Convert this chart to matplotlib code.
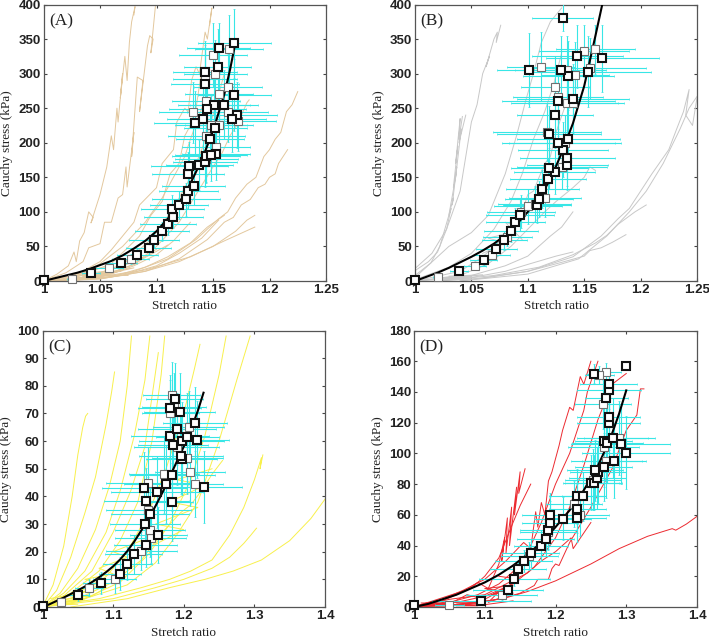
import matplotlib
matplotlib.use("Agg")
import matplotlib.pyplot as plt

W = 709
H = 644

plt.rcParams["font.family"] = "Liberation Sans"
plt.rcParams["font.weight"] = "bold"

# panel A
a_x = [1.0, 1.042, 1.069, 1.083, 1.093, 1.098, 1.105, 1.110, 1.115, 1.114, 1.120, 1.126, 1.128, 1.133, 1.128, 1.129, 1.138, 1.143, 1.144, 1.153, 1.148, 1.147, 1.152, 1.134, 1.141, 1.171, 1.167, 1.151, 1.145, 1.160, 1.169, 1.143, 1.143, 1.154, 1.155, 1.169]
a_y = [2, 12, 26, 38, 48, 60, 72, 82, 92, 104, 110, 118, 130, 138, 155, 166, 168, 172, 181, 184, 182, 206, 222, 229, 234, 240, 234, 254, 249, 255, 269, 285, 302, 310, 337, 344]
a_xerr = [.001, .008, .014, .018, .02, .022, .024, .025, .026, .028, .026, .03, .026, .028, .032, .034, .03, .028, .03, .03, .032, .03, .028, .036, .032, .036, .03, .032, .034, .03, .032, .03, .028, .03, .028, .032]
a_yerr = [.5, 3, 6, 8, 10, 12, 14, 15, 16, 20, 20, 24, 26, 28, 32, 35, 36, 36, 38, 38, 38, 40, 42, 46, 46, 48, 48, 50, 50, 50, 52, 52, 45, 55, 36, 50]
a2_x = [1.025, 1.058, 1.077, 1.132, 1.144, 1.144, 1.148, 1.153, 1.155, 1.155, 1.163, 1.152, 1.150, 1.164, 1.172, 1.163, 1.143, 1.144]
a2_y = [3, 19, 32, 244, 260, 210, 226, 194, 225, 270, 280, 300, 327, 335, 232, 245, 292, 176]
a2_xerr = [.004, .012, .016, .03, .03, .034, .032, .03, .03, .03, .03, .028, .03, .03, .034, .036, .028, .028]
a2_yerr = [1, 5, 7, 44, 46, 40, 42, 38, 40, 46, 48, 48, 46, 50, 44, 44, 50, 34]
a_fit_x = [1.0, 1.01, 1.02, 1.03, 1.04, 1.05, 1.06, 1.07, 1.08, 1.09, 1.10, 1.11, 1.12, 1.13, 1.14, 1.15, 1.16, 1.165, 1.169]
a_fit_y = [0, 4, 8, 12, 17, 23, 29, 37, 47, 58, 72, 90, 113, 141, 175, 217, 270, 305, 338]
a_curves = [
    ([1.0, 1.012, 1.022, 1.027, 1.029, 1.032, 1.036, 1.04, 1.044, 1.042, 1.05, 1.053, 1.056, 1.06, 1.062, 1.065, 1.066, 1.07, 1.068, 1.072, 1.074, 1.076, 1.078, 1.081, 1.08], [0, 10, 22, 42, 28, 58, 70, 100, 92, 84, 125, 145, 165, 210, 190, 250, 230, 300, 265, 325, 290, 345, 375, 397, 385]),
    ([1.0, 1.02, 1.035, 1.04, 1.05, 1.054, 1.06, 1.066, 1.07, 1.073, 1.074, 1.08, 1.078, 1.083, 1.088, 1.085, 1.092, 1.094, 1.097, 1.095, 1.099], [0, 12, 28, 48, 54, 85, 85, 120, 125, 165, 136, 215, 180, 295, 290, 245, 340, 355, 350, 330, 397]),
    ([1.0, 1.03, 1.05, 1.06, 1.08, 1.085, 1.1, 1.105, 1.115, 1.118, 1.125, 1.128, 1.131, 1.135, 1.138, 1.143, 1.145, 1.149, 1.147], [0, 10, 28, 45, 85, 110, 135, 170, 190, 230, 250, 245, 290, 310, 300, 360, 350, 395, 370]),
    ([1.0, 1.03, 1.06, 1.085, 1.095, 1.105, 1.112, 1.12, 1.125, 1.13, 1.135, 1.14], [0, 6, 25, 65, 95, 115, 155, 170, 210, 225, 250, 305]),
    ([1.0, 1.03, 1.05, 1.07, 1.09, 1.105, 1.115, 1.125, 1.13, 1.14], [0, 8, 25, 50, 85, 120, 150, 180, 205, 250]),
    ([1.0, 1.04, 1.07, 1.095, 1.115, 1.13, 1.14, 1.15, 1.16], [0, 6, 24, 60, 105, 150, 190, 240, 300]),
    ([1.0, 1.05, 1.08, 1.1, 1.12, 1.135, 1.15, 1.158, 1.165, 1.172, 1.18, 1.182], [0, 6, 24, 50, 85, 125, 165, 185, 210, 228, 258, 262]),
    ([1.0, 1.04, 1.08, 1.11, 1.135, 1.155, 1.163, 1.17, 1.18, 1.188, 1.195, 1.2, 1.205, 1.21, 1.215, 1.22, 1.225], [0, 3, 14, 32, 60, 90, 100, 120, 140, 150, 180, 190, 205, 215, 245, 255, 274]),
    ([1.0, 1.05, 1.09, 1.12, 1.145, 1.16, 1.168, 1.175, 1.183, 1.19, 1.196, 1.2, 1.205, 1.208, 1.216], [0, 3, 14, 32, 60, 85, 92, 110, 118, 135, 140, 150, 155, 170, 190]),
    ([1.0, 1.05, 1.09, 1.12, 1.15, 1.17, 1.18, 1.187], [0, 3, 14, 28, 50, 72, 88, 95]),
    ([1.0, 1.05, 1.09, 1.13, 1.16, 1.187], [0, 4, 16, 35, 58, 78]),
    ([1.0, 1.06, 1.09, 1.11, 1.13, 1.145, 1.16], [0, 6, 20, 35, 55, 78, 95]),
    ([1.0, 1.03, 1.06, 1.08, 1.1, 1.115, 1.13], [0, 2, 10, 22, 38, 58, 85]),
    ([1.0, 1.04, 1.07, 1.1, 1.12, 1.14, 1.155], [0, 2, 8, 22, 40, 62, 88]),
    ([1.025, 1.04, 1.06, 1.08, 1.09, 1.11], [0, 4, 12, 24, 34, 52]),
    ([1.025, 1.03, 1.045, 1.065, 1.085, 1.1], [0, 8, 18, 20, 30, 46]),
    ([1.025, 1.026, 1.05, 1.028, 1.06, 1.03, 1.07, 1.034, 1.08, 1.04, 1.075, 1.03, 1.055, 1.026], [1, 3, 9, 7, 12, 4, 15, 2, 19, 8, 8, 10, 14, 2]),
]

# panel B
b_x = [1.0, 1.039, 1.061, 1.072, 1.079, 1.085, 1.089, 1.093, 1.108, 1.110, 1.113, 1.118, 1.124, 1.119, 1.135, 1.135, 1.131, 1.127, 1.136, 1.119, 1.124, 1.127, 1.14, 1.136, 1.129, 1.153, 1.101, 1.166, 1.144, 1.131]
b_y = [1, 14, 30, 46, 59, 72, 86, 96, 110, 118, 133, 147, 158, 163, 168, 178, 190, 200, 206, 213, 240, 260, 264, 297, 305, 303, 305, 322, 325, 381]
b_xerr = [.001, .008, .012, .018, .02, .024, .026, .03, .03, .03, .032, .034, .036, .034, .036, .042, .04, .05, .046, .046, .034, .05, .05, .04, .04, .056, .028, .05, .04, .027]
b_yerr = [.5, 3, 7, 10, 14, 16, 20, 24, 26, 26, 28, 30, 32, 30, 36, 40, 40, 42, 44, 40, 48, 50, 50, 50, 50, 52, 54, 48, 46, 20]
b2_x = [1.02, 1.053, 1.068, 1.082, 1.094, 1.1, 1.106, 1.115, 1.117, 1.124, 1.127, 1.135, 1.14, 1.112, 1.135, 1.142, 1.155, 1.150, 1.16, 1.13, 1.133]
b2_y = [6, 21, 38, 64, 100, 108, 112, 120, 216, 280, 266, 258, 258, 310, 305, 298, 308, 333, 335, 165, 200]
b2_xerr = [.004, .01, .016, .022, .03, .03, .032, .032, .048, .03, .04, .05, .04, .03, .03, .03, .05, .04, .035, .04, .05]
b2_yerr = [1, 5, 8, 14, 24, 25, 26, 28, 42, 46, 46, 46, 46, 50, 50, 48, 44, 38, 36, 32, 40]
b_fit_x = [1.0, 1.01, 1.02, 1.03, 1.04, 1.05, 1.06, 1.07, 1.08, 1.09, 1.10, 1.11, 1.12, 1.13, 1.14, 1.15, 1.16, 1.166]
b_fit_y = [0, 6, 12, 19, 27, 35, 44, 54, 66, 82, 100, 120, 147, 185, 228, 282, 355, 400]
b_curves = [
    ([1.0, 1.012, 1.02, 1.028, 1.032, 1.03, 1.036, 1.034, 1.038, 1.036, 1.04, 1.039, 1.042], [15, 28, 42, 75, 105, 95, 150, 135, 195, 170, 235, 205, 238]),
    ([1.0, 1.014, 1.022, 1.03, 1.034, 1.033, 1.037, 1.036, 1.041, 1.039, 1.045], [8, 26, 50, 95, 120, 110, 165, 150, 220, 200, 240]),
    ([1.0, 1.015, 1.028, 1.04, 1.045, 1.05, 1.055, 1.06, 1.066, 1.063, 1.07, 1.073, 1.072, 1.076], [18, 40, 75, 130, 180, 230, 255, 300, 325, 310, 350, 360, 345, 370]),
    ([1.0, 1.03, 1.05, 1.065, 1.08, 1.09, 1.098, 1.105, 1.112, 1.12, 1.13], [5, 50, 70, 95, 155, 210, 260, 300, 345, 375, 395]),
    ([1.0, 1.03, 1.05, 1.07, 1.085, 1.095, 1.105, 1.115, 1.123, 1.13], [2, 20, 40, 75, 115, 155, 205, 245, 285, 330]),
    ([1.0, 1.04, 1.06, 1.08, 1.095, 1.1, 1.105, 1.115, 1.12, 1.125, 1.135], [0, 14, 35, 65, 100, 125, 130, 170, 180, 215, 262]),
    ([1.0, 1.04, 1.065, 1.085, 1.1, 1.115, 1.125, 1.14, 1.15, 1.155, 1.16], [0, 8, 25, 50, 75, 100, 115, 135, 150, 165, 160]),
    ([1.0, 1.05, 1.08, 1.1, 1.12, 1.13, 1.14], [0, 8, 22, 36, 65, 78, 100]),
    ([1.0, 1.05, 1.08, 1.1, 1.125, 1.14], [0, 5, 14, 24, 36, 42]),
    ([1.02, 1.06, 1.1, 1.13, 1.15, 1.155, 1.165, 1.175, 1.187], [0, 4, 14, 27, 36, 44, 48, 56, 67]),
    ([1.02, 1.07, 1.11, 1.14, 1.16, 1.17, 1.18, 1.195, 1.205], [0, 8, 20, 38, 55, 66, 82, 100, 110]),
    ([1.04, 1.1, 1.14, 1.165, 1.18, 1.19, 1.2, 1.21, 1.225, 1.232, 1.238, 1.243, 1.24, 1.246, 1.25], [0, 14, 35, 65, 90, 105, 130, 155, 190, 220, 245, 277, 240, 225, 265]),
    ([1.04, 1.1, 1.145, 1.17, 1.19, 1.205, 1.22, 1.235, 1.243, 1.25], [0, 10, 32, 65, 100, 130, 170, 220, 250, 267]),
    ([1.02, 1.04, 1.022, 1.05, 1.025, 1.06, 1.03, 1.05, 1.02], [1, 4, 5, 6, 2, 9, 7, 3, 3]),
    ([1.06, 1.08, 1.065, 1.085, 1.07, 1.09, 1.08, 1.095], [40, 55, 62, 70, 50, 80, 85, 60]),
]

# panel C
c_x = [1.0, 1.05, 1.083, 1.11, 1.12, 1.129, 1.146, 1.164, 1.145, 1.152, 1.147, 1.144, 1.183, 1.162, 1.175, 1.184, 1.197, 1.196, 1.228, 1.197, 1.185, 1.181, 1.205, 1.219, 1.19, 1.216, 1.194, 1.18, 1.187]
c_y = [.5, 4.3, 8.7, 12, 15.6, 19, 22.5, 26, 30, 33.5, 38.3, 43, 38, 41.5, 44.5, 47.7, 53.5, 54.7, 43.5, 60, 58.7, 61.8, 61.5, 60.5, 64.5, 66.7, 70.5, 72, 75.3]
c_xerr = [.001, .015, .025, .03, .035, .04, .045, .04, .05, .055, .06, .06, .03, .065, .06, .06, .05, .06, .055, .06, .05, .055, .045, .045, .055, .045, .05, .045, .04]
c_yerr = [.2, 2, 4, 6, 6, 7, 8, 10, 10, 11, 12, 13, 14, 13, 14, 13, 13, 14, 13, 14, 12, 13, 16, 14, 13, 13, 14, 12, 13]
c2_x = [1.026, 1.066, 1.102, 1.14, 1.153, 1.152, 1.15, 1.15, 1.172, 1.209, 1.216, 1.205, 1.19, 1.207, 1.181, 1.186, 1.183]
c2_y = [1.7, 7, 10.2, 20.3, 25, 28, 35, 44.7, 48, 48.7, 44.5, 54, 58, 65, 70, 72.5, 76.5]
c2_xerr = [.006, .02, .03, .05, .05, .05, .06, .06, .05, .05, .04, .05, .06, .05, .04, .045, .04]
c2_yerr = [.8, 3, 5, 7, 9, 10, 12, 13, 14, 12, 12, 13, 14, 13, 12, 12, 12]
c_fit_x = [1.0, 1.01, 1.02, 1.03, 1.04, 1.05, 1.06, 1.07, 1.08, 1.09, 1.10, 1.11, 1.12, 1.13, 1.14, 1.15, 1.16, 1.17, 1.18, 1.19, 1.20, 1.21, 1.22, 1.228]
c_fit_y = [0, 1, 2.2, 3.4, 4.7, 6, 7.4, 9, 10.7, 12.6, 14.7, 17.2, 20.2, 23.7, 27.7, 32, 36.5, 41.5, 47, 52.5, 58, 64, 71, 77.5]
c_curves = [
    ([1.0, 1.015, 1.03, 1.042, 1.05, 1.057, 1.061, 1.064], [0, 8, 22, 40, 55, 65, 69, 70]),
    ([1.0, 1.02, 1.04, 1.06, 1.075, 1.09, 1.098, 1.102], [0, 6, 18, 34, 47, 66, 78, 85]),
    ([1.0, 1.025, 1.05, 1.075, 1.095, 1.11, 1.12, 1.126], [0, 5, 14, 28, 44, 60, 80, 98]),
    ([1.0, 1.03, 1.06, 1.09, 1.11, 1.13, 1.145, 1.152], [0, 5, 13, 27, 42, 62, 82, 98]),
    ([1.0, 1.03, 1.07, 1.1, 1.125, 1.145, 1.155, 1.164], [0, 4, 13, 27, 42, 58, 76, 92]),
    ([1.0, 1.04, 1.08, 1.11, 1.135, 1.155, 1.168, 1.173], [0, 5, 13, 24, 38, 60, 84, 98]),
    ([1.0, 1.05, 1.09, 1.12, 1.15, 1.175, 1.2, 1.215, 1.223], [0, 4, 11, 20, 34, 50, 70, 86, 95]),
    ([1.0, 1.05, 1.1, 1.14, 1.17, 1.195, 1.21, 1.225, 1.24, 1.255], [0, 3, 9, 17, 27, 34, 37, 42, 48, 53]),
    ([1.0, 1.06, 1.11, 1.15, 1.18, 1.21, 1.23, 1.25, 1.26], [0, 3, 9, 19, 30, 46, 62, 84, 98]),
    ([1.0, 1.06, 1.12, 1.16, 1.19, 1.22, 1.25, 1.275, 1.294], [0, 3, 8, 16, 26, 38, 60, 82, 98]),
    ([1.0, 1.08, 1.14, 1.18, 1.21, 1.24, 1.265, 1.285, 1.3, 1.31, 1.308, 1.312], [0, 3, 7, 10, 13, 17, 26, 36, 46, 54, 50, 55]),
    ([1.0, 1.1, 1.16, 1.2, 1.24, 1.265, 1.285, 1.295, 1.303], [0, 3, 7, 10, 14, 18, 23, 26, 28.5]),
    ([1.04, 1.12, 1.18, 1.23, 1.27, 1.31, 1.35, 1.38, 1.4], [0, 3, 7, 10, 13, 17, 24, 32, 39]),
    ([1.0, 1.04, 1.07, 1.09], [0, 1.5, 4, 7]),
    ([1.0, 1.05, 1.01, 1.06, 1.02, 1.07, 1.03, 1.06, 1.01], [.5, 1, 1.5, 2.5, 2.5, 4, 4, 5.5, 3]),
    ([1.05, 1.09, 1.06, 1.1, 1.08, 1.12, 1.1, 1.14], [6, 8, 10, 12, 14, 18, 20, 24]),
    ([1.14, 1.2, 1.16, 1.22, 1.18, 1.23, 1.19, 1.24], [20, 28, 30, 36, 38, 44, 46, 50]),
]

# panel D
d_x = [1.0, 1.095, 1.133, 1.142, 1.147, 1.155, 1.165, 1.18, 1.186, 1.19, 1.192, 1.192, 1.21, 1.231, 1.231, 1.231, 1.239, 1.25, 1.254, 1.259, 1.26, 1.256, 1.268, 1.283, 1.3, 1.268, 1.273, 1.281, 1.292, 1.275, 1.275, 1.272, 1.276, 1.275, 1.255, 1.3]
d_y = [1.5, 4, 11, 18.5, 24.5, 30, 35, 40, 44.5, 50, 55, 60, 57.5, 58, 64, 72, 72, 81, 81, 84, 88, 89, 91, 95, 100.5, 108, 107, 110, 106, 120, 124, 136, 141, 145, 152, 157]
d_xerr = [.001, .07, .05, .05, .04, .04, .04, .038, .04, .04, .04, .04, .04, .04, .04, .04, .03, .04, .04, .04, .04, .04, .04, .045, .062, .04, .05, .05, .07, .045, .045, .03, .045, .04, .01, .005]
d_yerr = [.5, 1, 3, 5, 6, 7, 9, 10, 11, 12, 14, 14, 14, 16, 16, 18, 16, 18, 18, 20, 20, 20, 22, 24, 24, 24, 26, 26, 26, 22, 22, 12, 12, 10, 6, 2]
d2_x = [1.05, 1.124, 1.163, 1.19, 1.226, 1.235, 1.253, 1.268, 1.267, 1.272, 1.262, 1.29, 1.272]
d2_y = [1.5, 7.5, 33, 49, 67, 60, 83, 104, 132, 153, 151, 110, 95]
d2_xerr = [.02, .05, .04, .04, .04, .04, .04, .05, .04, .02, .02, .05, .05]
d2_yerr = [.5, 3, 9, 12, 15, 14, 20, 26, 16, 6, 6, 24, 24]
d_fit_x = [1.0, 1.02, 1.04, 1.06, 1.08, 1.1, 1.12, 1.14, 1.16, 1.18, 1.2, 1.22, 1.24, 1.25, 1.26, 1.27, 1.28, 1.29, 1.3]
d_fit_y = [0, 2, 5, 8, 12, 16, 21, 27, 34, 42, 52, 63, 76, 84, 92, 102, 113, 126, 141]
d_curves = [
    ([1.0, 1.04, 1.07, 1.09, 1.105, 1.12, 1.128, 1.124, 1.132, 1.13, 1.138, 1.135, 1.145, 1.142, 1.15, 1.148, 1.157], [0, 4, 10, 16, 12, 28, 45, 30, 58, 35, 65, 40, 78, 60, 88, 74, 90]),
    ([1.0, 1.04, 1.08, 1.1, 1.12, 1.14, 1.15, 1.165], [0, 6, 12, 20, 32, 55, 66, 80]),
    ([1.0, 1.04, 1.07, 1.1, 1.13, 1.155, 1.165, 1.172, 1.175, 1.18, 1.185, 1.19, 1.195, 1.205, 1.21, 1.22, 1.225, 1.235, 1.24, 1.25], [0, 5, 11, 18, 30, 42, 38, 62, 52, 68, 60, 82, 88, 105, 115, 130, 128, 150, 145, 160]),
    ([1.0, 1.05, 1.09, 1.12, 1.145, 1.165, 1.18, 1.2, 1.22, 1.24, 1.245, 1.26], [0, 3, 8, 15, 25, 40, 55, 80, 100, 128, 140, 160]),
    ([1.0, 1.05, 1.1, 1.13, 1.16, 1.18, 1.2, 1.222, 1.225, 1.25], [0, 5, 8, 15, 22, 30, 36, 45, 38, 55]),
    ([1.0, 1.06, 1.1, 1.14, 1.17, 1.2, 1.22, 1.24, 1.26, 1.28, 1.3], [0, 3, 7, 15, 26, 45, 65, 92, 122, 145, 152]),
    ([1.0, 1.07, 1.12, 1.15, 1.17, 1.175, 1.19, 1.195, 1.2, 1.205, 1.22, 1.25, 1.28, 1.3, 1.315, 1.32, 1.325], [0, 2, 5, 9, 14, 18, 18, 25, 28, 27, 42, 65, 90, 115, 125, 142, 142]),
    ([1.0, 1.05, 1.09, 1.13, 1.16, 1.2, 1.25, 1.29, 1.33, 1.365, 1.37, 1.385, 1.4], [0, 1, 3, 6, 10, 17, 28, 38, 46, 51, 50, 54, 59]),
    ([1.0, 1.03, 1.05, 1.075, 1.1, 1.12, 1.105, 1.14], [0, 4, 2, 8, 5, 10, 3, 9]),
    ([1.0, 1.02, 1.04, 1.03, 1.06, 1.08, 1.1, 1.14], [0, 3, 1, 2.5, 1, 3, 1.5, 4]),
    ([1.01, 1.045, 1.01, 1.045, 1.01, 1.045], [.6, .6, 1.6, 1.6, 2.6, 2.6]),
    ([1.06, 1.09, 1.06, 1.09, 1.06, 1.09], [.8, .8, 1.8, 1.8, 2.8, 2.8]),
    ([1.09, 1.13, 1.1, 1.14, 1.11, 1.15, 1.12], [6, 10, 12, 14, 8, 18, 20]),
]

panels = [
    ("(A)", (43.5, 326, 4.5, 281), (1, 1.25), (0, 400), [1, 1.05, 1.1, 1.15, 1.2, 1.25], ["1", "1.05", "1.1", "1.15", "1.2", "1.25"], range(0, 401, 50), "#E3C89E", a_curves, a_x, a_y, a_xerr, a_yerr, a2_x, a2_y, a2_xerr, a2_yerr, a_fit_x, a_fit_y),
    ("(B)", (415, 697, 4.5, 281), (1, 1.25), (0, 400), [1, 1.05, 1.1, 1.15, 1.2, 1.25], ["1", "1.05", "1.1", "1.15", "1.2", "1.25"], range(0, 401, 50), "#C8C8C8", b_curves, b_x, b_y, b_xerr, b_yerr, b2_x, b2_y, b2_xerr, b2_yerr, b_fit_x, b_fit_y),
    ("(C)", (42.5, 325, 330.5, 607), (1, 1.4), (0, 100), [1, 1.1, 1.2, 1.3, 1.4], ["1", "1.1", "1.2", "1.3", "1.4"], range(0, 101, 10), "#F8F04C", c_curves, c_x, c_y, c_xerr, c_yerr, c2_x, c2_y, c2_xerr, c2_yerr, c_fit_x, c_fit_y),
    ("(D)", (414, 697, 330.5, 607), (1, 1.4), (0, 180), [1, 1.1, 1.2, 1.3, 1.4], ["1", "1.1", "1.2", "1.3", "1.4"], range(0, 181, 20), "#EC2A30", d_curves, d_x, d_y, d_xerr, d_yerr, d2_x, d2_y, d2_xerr, d2_yerr, d_fit_x, d_fit_y),
]

fig = plt.figure(figsize=(W / 100, H / 100), dpi=100)

for p in panels:
    name, box, xlim, ylim, xt, xtl, yt, col, curves = p[:9]
    px, py, pxe, pye, qx, qy, qxe, qye, fx, fy = p[9:]
    l, r, t, b = box
    ax = fig.add_axes([l / W, 1 - b / H, (r - l) / W, (b - t) / H])
    for cx, cy in curves:
        ax.plot(cx, cy, color=col, lw=0.7, zorder=2)
    ax.errorbar(qx, qy, xerr=qxe, yerr=qye, fmt="none", ecolor="#38E6E6", elinewidth=0.8, capsize=0.8, capthick=0.5, zorder=3)
    ax.errorbar(px, py, xerr=pxe, yerr=pye, fmt="none", ecolor="#38E6E6", elinewidth=0.8, capsize=0.8, capthick=0.5, zorder=3)
    ax.plot(fx, fy, color="black", lw=1.5, zorder=4)
    ax.plot(qx, qy, "s", ms=6.2, mfc="white", mec="#707070", mew=0.8, zorder=5, clip_on=False)
    ax.plot(px, py, "s", ms=5.8, mfc="white", mec="#111111", mew=1.5, zorder=6, clip_on=False)
    ax.set_xlim(xlim)
    ax.set_ylim(ylim)
    ax.set_xticks(xt)
    ax.set_xticklabels(xtl)
    ax.set_yticks(list(yt))
    ax.tick_params(direction="in", top=True, right=True, length=2.5, width=0.8, color="#444444", pad=2, labelsize=9.5, labelcolor="#222222")
    for s in ax.spines.values():
        s.set_color("#555555")
        s.set_linewidth(0.9)
    # labels placed by pixel, like the reference
    ax.text(0.02, 0.94, name, transform=ax.transAxes, family="Liberation Serif", weight="normal", fontsize=12.5, color="#222222", va="center", zorder=7)
    fig.text((l + r) / 2 / W, 1 - (b + 25.5) / H, "Stretch ratio", family="Liberation Serif", weight="normal", fontsize=9.5, color="#222222", ha="center", va="center")
    fig.text((l - 36) / W, 1 - (t + b) / 2 / H, "Cauchy stress (kPa)", family="Liberation Serif", weight="normal", fontsize=9.5, color="#222222", rotation=90, ha="center", va="center")

fig.savefig("out.png", dpi=100)
